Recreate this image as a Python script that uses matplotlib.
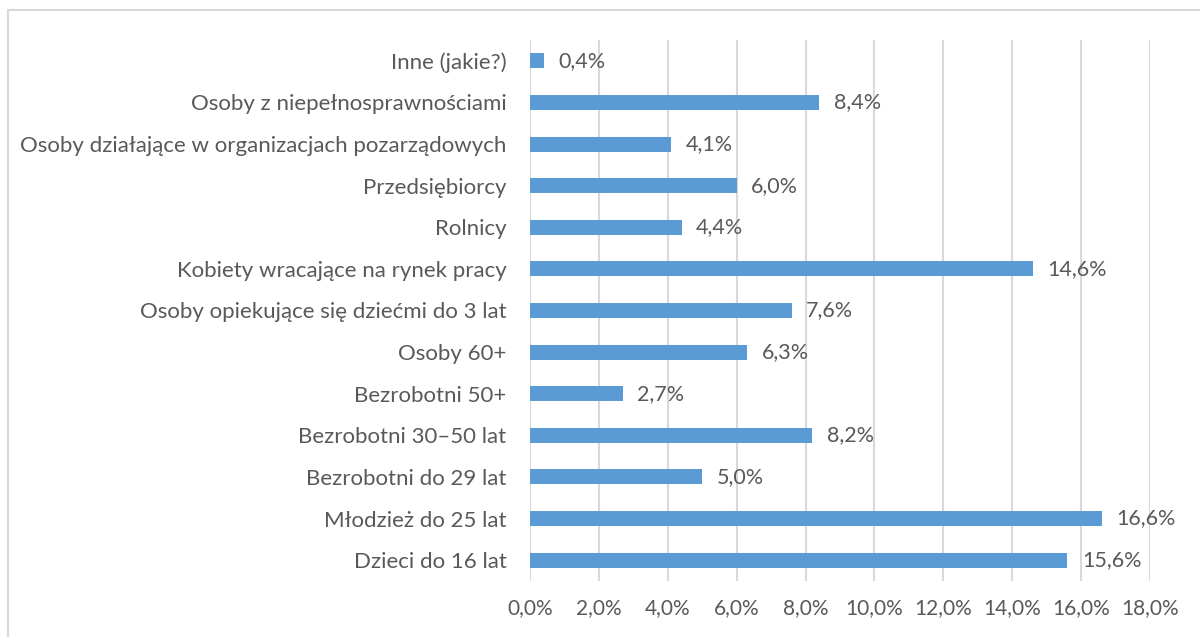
import matplotlib.pyplot as plt
from matplotlib.patches import Rectangle

categories = [
    "Dzieci do 16 lat",
    "Młodzież do 25 lat",
    "Bezrobotni do 29 lat",
    "Bezrobotni 30–50 lat",
    "Bezrobotni 50+",
    "Osoby 60+",
    "Osoby opiekujące się dziećmi do 3 lat",
    "Kobiety wracające na rynek pracy",
    "Rolnicy",
    "Przedsiębiorcy",
    "Osoby działające w organizacjach pozarządowych",
    "Osoby z niepełnosprawnościami",
    "Inne (jakie?)",
]
values = [15.6, 16.6, 5.0, 8.2, 2.7, 6.3, 7.6, 14.6, 4.4, 6.0, 4.1, 8.4, 0.4]
xticks = [0, 2, 4, 6, 8, 10, 12, 14, 16, 18]

plt.rcParams['font.family'] = ['Lato', 'DejaVu Sans']
text_color = "#595959"
bar_color = "#5B9BD5"

fig = plt.figure(figsize=(12, 6.37), dpi=100)
ax = fig.add_axes([530 / 1200, 1 - 581 / 637, 620 / 1200, 541 / 637])

pos = list(range(len(categories)))
ax.barh(pos, values, height=0.36, color=bar_color, zorder=3)
for p, v in zip(pos, values):
    ax.text(v + 0.42, p, f"{v:.1f}%".replace(".", ","), va="center", ha="left",
            fontsize=15.5, color=text_color)

ax.set_xlim(0, 18)
ax.set_ylim(-0.5, len(categories) - 0.5)
ax.set_yticks(pos)
ax.set_yticklabels(categories, fontsize=16, color=text_color)
ax.set_xticks(xticks)
ax.set_xticklabels([f"{t:.1f}%".replace(".", ",") for t in xticks],
                   fontsize=15, color=text_color)
ax.tick_params(axis="y", length=0, pad=17)
ax.tick_params(axis="x", length=0, pad=12)
ax.grid(axis="x", color="#d9d9d9", linewidth=1.5, zorder=0)
for s in ax.spines.values():
    s.set_visible(False)

# chart area border
fig.patches.append(Rectangle((8 / 1200, -0.1), 1.2, 1.1 - 10 / 637,
                             transform=fig.transFigure, fill=False,
                             edgecolor="#d9d9d9", linewidth=1.5, clip_on=False))

fig.savefig("out.png", dpi=100)
